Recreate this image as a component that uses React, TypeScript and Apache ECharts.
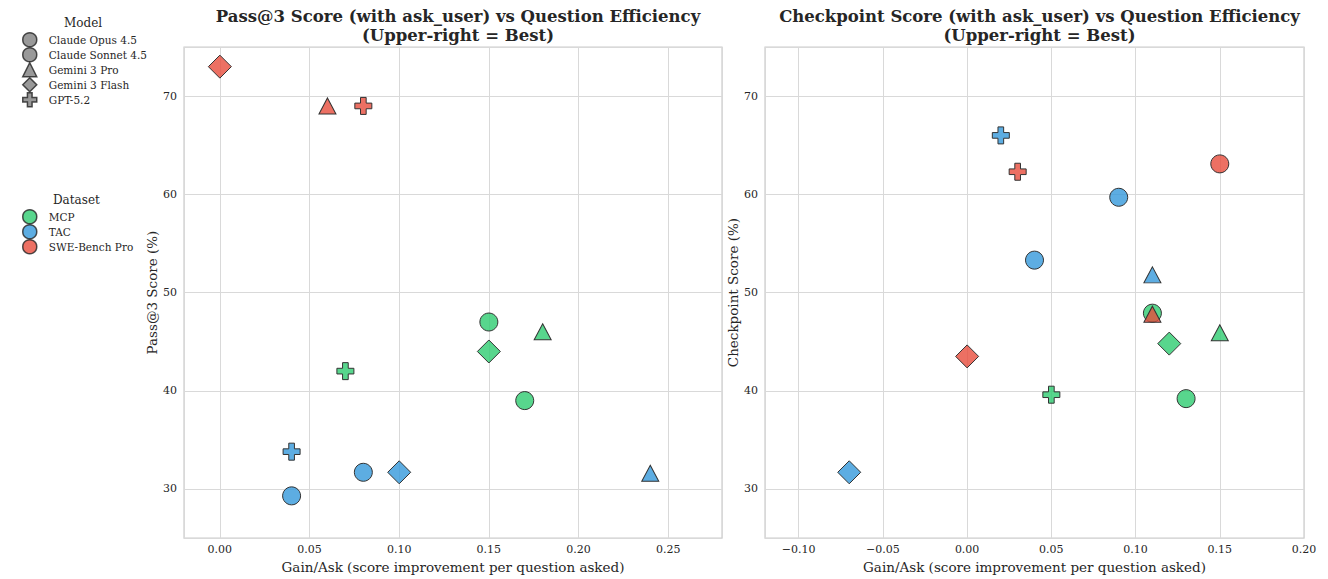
import React, { useEffect, useRef } from "react";
import * as echarts from "echarts";

const models = ["Claude Opus 4.5", "Claude Sonnet 4.5", "Gemini 3 Pro", "Gemini 3 Flash", "GPT-5.2"];
const datasets = ["MCP", "TAC", "SWE-Bench Pro"];

// [gain per ask, score, model index]
const passMCP = [[0.15, 47.0, 0], [0.17, 39.0, 1], [0.18, 46.0, 2], [0.15, 44.0, 3], [0.07, 42.0, 4]];
const passTAC = [[0.08, 31.7, 0], [0.04, 29.3, 1], [0.24, 31.6, 2], [0.10, 31.7, 3], [0.04, 33.8, 4]];
const passSWE = [[0.06, 69.0, 2], [0.00, 73.0, 3], [0.08, 69.0, 4]];

const ckptMCP = [[0.11, 47.9, 0], [0.13, 39.2, 1], [0.15, 45.9, 2], [0.12, 44.8, 3], [0.05, 39.6, 4]];
const ckptTAC = [[0.09, 59.7, 0], [0.04, 53.3, 1], [0.11, 51.8, 2], [-0.07, 31.7, 3], [0.02, 66.0, 4]];
const ckptSWE = [[0.15, 63.1, 0], [0.11, 47.8, 2], [0.00, 43.5, 3], [0.03, 62.3, 4]];

const titles = [
  "Pass@3 Score (with ask_user) vs Question Efficiency\n(Upper-right = Best)",
  "Checkpoint Score (with ask_user) vs Question Efficiency\n(Upper-right = Best)",
];
const yNames = ["Pass@3 Score (%)", "Checkpoint Score (%)"];
const xName = "Gain/Ask (score improvement per question asked)";

const PLUS = "path://M-1,-3L1,-3L1,-1L3,-1L3,1L1,1L1,3L-1,3L-1,1L-3,1L-3,-1L-1,-1Z";
const modelSymbols = ["circle", "circle", "triangle", "diamond", PLUS];
const modelSizes: any[] = [18, 18, [17, 16], 23, 17];

const dsSolid = ["#2ecc71", "#3498db", "#e74c3c"];
const dsAlpha = ["rgba(46,204,113,0.8)", "rgba(52,152,219,0.8)", "rgba(231,76,60,0.8)"];

const FONT = "DejaVu Serif";
const TXT = "#262626";

export default function App() {
  const ref = useRef<HTMLDivElement>(null);
  useEffect(() => {
    document.body.style.margin = "0";
    if (!ref.current) return;
    const chart = echarts.init(ref.current, null, { renderer: "svg" });

    const gridL = { left: 184, top: 47, width: 538, height: 493 };
    const gridR = { left: 765, top: 47, width: 539, height: 493 };
    const fmtX = (v: number) => (v < -1e-9 ? "\u2212" : "") + Math.abs(v).toFixed(2);

    const mkX = (idx: number, min: number, max: number, showMax: boolean) => ({
      type: "value",
      gridIndex: idx,
      min,
      max,
      splitNumber: 6,
      name: xName,
      nameLocation: "middle",
      nameGap: 21,
      nameTextStyle: { fontFamily: FONT, fontSize: 13.5, color: TXT },
      axisLine: { show: false },
      axisTick: { show: false },
      axisLabel: {
        fontFamily: FONT,
        fontSize: 11,
        color: TXT,
        margin: 6,
        showMinLabel: false,
        showMaxLabel: showMax,
        formatter: fmtX,
      },
      splitLine: { show: true, lineStyle: { color: "#d9d9d9", width: 1 } },
    });
    const mkY = (idx: number, nameGap: number) => ({
      type: "value",
      gridIndex: idx,
      min: 25,
      max: 75,
      splitNumber: 5,
      name: yNames[idx],
      nameLocation: "middle",
      nameGap,
      nameRotate: 90,
      nameTextStyle: { fontFamily: FONT, fontSize: 13.5, color: TXT },
      axisLine: { show: false },
      axisTick: { show: false },
      axisLabel: {
        fontFamily: FONT,
        fontSize: 11,
        color: TXT,
        margin: 7,
        showMinLabel: false,
        showMaxLabel: false,
        formatter: (v: number) => String(Math.round(v)),
      },
      splitLine: { show: true, lineStyle: { color: "#d9d9d9", width: 1 } },
    });

    const dataSeries = (idx: number, label: string, arrs: number[][][]) =>
      arrs.map((arr, d) => ({
        name: label + " " + datasets[d],
        type: "scatter",
        xAxisIndex: idx,
        yAxisIndex: idx,
        z: 3 + d,
        itemStyle: { color: dsAlpha[d], borderColor: "#333333", borderWidth: 1, opacity: 1 },
        emphasis: { disabled: true },
        data: arr.map(([x, y, m]) => ({
          value: [x, y],
          symbol: modelSymbols[m],
          symbolSize: modelSizes[m],
        })),
      }));

    const legendModelSeries = models.map((m, i) => ({
      name: m,
      type: "scatter",
      xAxisIndex: 0,
      yAxisIndex: 0,
      symbol: modelSymbols[i],
      itemStyle: { color: "#808080", borderColor: "#222222", borderWidth: 1.5 },
      data: [],
    }));
    const legendDsSeries = datasets.map((d, i) => ({
      name: d,
      type: "scatter",
      xAxisIndex: 0,
      yAxisIndex: 0,
      symbol: "circle",
      itemStyle: { color: dsSolid[i], borderColor: "#222222", borderWidth: 1.5 },
      data: [],
    }));

    const legendCommon = {
      orient: "vertical",
      left: 22,
      itemWidth: 14,
      itemHeight: 14,
      itemGap: -0.5,
      padding: 0,
      selectedMode: false,
      textStyle: { fontFamily: FONT, fontSize: 10.5, color: TXT, padding: [0, 0, 0, 7], lineHeight: 12 },
      itemStyle: { borderColor: "#222222", borderWidth: 1.5 },
    };

    chart.setOption({
      animation: false,
      backgroundColor: "#ffffff",
      textStyle: { fontFamily: FONT },
      title: titles.map((t, i) => ({
        text: t,
        left: i === 0 ? 453 : 1034.5,
        top: 2,
        textAlign: "center",
        textStyle: { fontFamily: FONT, fontSize: 16.5, fontWeight: "bold", color: TXT, lineHeight: 19 },
      })),
      grid: [gridL, gridR].map((g) => ({
        ...g,
        show: true,
        borderColor: "#cccccc",
        borderWidth: 1.2,
        backgroundColor: "transparent",
        containLabel: false,
      })),
      xAxis: [mkX(0, -0.02, 0.28, false), mkX(1, -0.12, 0.2, true)],
      yAxis: [mkY(0, 25), mkY(1, 24)],
      legend: [
        {
          ...legendCommon,
          top: 32,
          data: models.map((m, i) => ({ name: m, icon: modelSymbols[i] })),
        },
        {
          ...legendCommon,
          top: 209,
          data: datasets.map((d) => ({ name: d, icon: "circle" })),
        },
      ],
      graphic: [
        {
          type: "text",
          left: 64,
          top: 17,
          style: { text: "Model", fontFamily: FONT, fontSize: 12, fill: TXT },
        },
        {
          type: "text",
          left: 53,
          top: 194,
          style: { text: "Dataset", fontFamily: FONT, fontSize: 12, fill: TXT },
        },
      ],
      series: [
        ...legendModelSeries,
        ...legendDsSeries,
        ...dataSeries(0, "Pass@3", [passMCP, passTAC, passSWE]),
        ...dataSeries(1, "Checkpoint", [ckptMCP, ckptTAC, ckptSWE]),
      ],
    });
    return () => chart.dispose();
  }, []);
  return <div ref={ref} style={{ width: 1328, height: 579 }} />;
}
